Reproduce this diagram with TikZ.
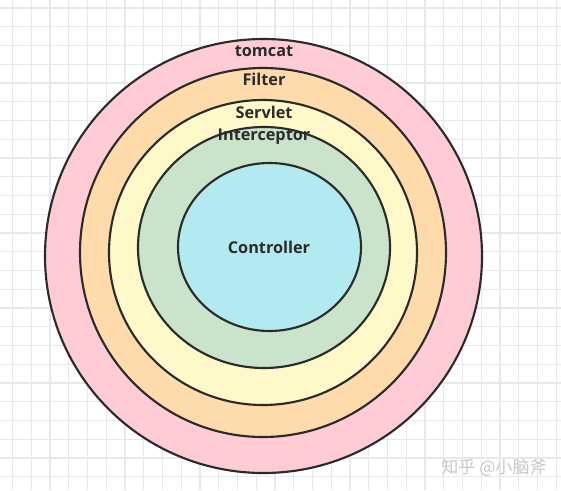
\documentclass[tikz,border=0pt]{standalone}
\usepackage{fontspec}
\setsansfont{Open Sans}
\newfontfamily\cjkfont{Noto Sans CJK SC}
\usepackage{tikz}

\definecolor{gridgray}{HTML}{E8E8E8}
\definecolor{ringline}{HTML}{2B2B2B}
\definecolor{tomcatpink}{HTML}{FFCCD5}
\definecolor{filterorange}{HTML}{FFDAAA}
\definecolor{servletyellow}{HTML}{FFF8C8}
\definecolor{interceptorgreen}{HTML}{C9E4CB}
\definecolor{controllerblue}{HTML}{B2EAF0}

\tikzset{
  ring/.style={draw=ringline,line width=1.6pt},
  layer/.style={font=\sffamily\bfseries\fontsize{12.2}{14}\selectfont,text=ringline,inner sep=0pt}
}

\begin{document}
\begin{tikzpicture}[x=0.75pt,y=-0.75pt]
  \useasboundingbox (0,0) rectangle (561,490);
  \fill[white] (0,0) rectangle (561,490);
  % background grid
  \foreach \i in {0,...,29} { \draw[gridgray,line width=0.8pt] (12.5+18.75*\i,0) -- (12.5+18.75*\i,490); }
  \foreach \j in {0,...,25} { \draw[gridgray,line width=0.8pt] (0,8+18.75*\j) -- (561,8+18.75*\j); }
  % the layers, outside in
  \draw[ring,fill=tomcatpink] (263.5,256) ellipse (218.5 and 217);
  \draw[ring,fill=filterorange] (263,252.5) ellipse (183 and 184.5);
  \draw[ring,fill=servletyellow] (263,252.5) ellipse (154 and 152.5);
  \draw[ring,fill=interceptorgreen] (264,247.5) ellipse (126 and 120.5);
  \draw[ring,fill=controllerblue] (269.5,247) ellipse (91.5 and 84);
  \node[layer] (tomcat) at (264,51) {tomcat};
  \node[layer] (filter) at (264,79) {Filter};
  \node[layer] (servlet) at (264,112) {Servlet};
  \node[layer] (interceptor) at (264,137) {Interceptor};
  \node[layer] (controller) at (269,247) {Controller};
  \node[text=black!22,font=\cjkfont\fontsize{12.8}{14}\selectfont,inner sep=0pt] (mark) at (494,468) {知乎 @小脑斧};
\end{tikzpicture}
\end{document}
